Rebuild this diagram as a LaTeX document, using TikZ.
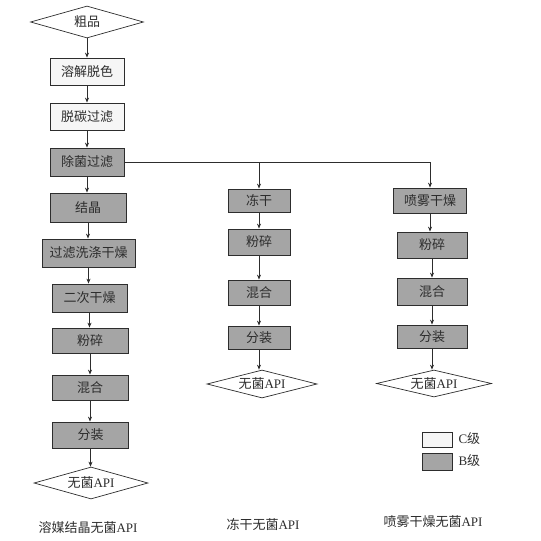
\documentclass[tikz,border=0pt]{standalone}
\usepackage{fontspec}
\setmainfont{Liberation Serif}
\newfontfamily\cjk{Noto Sans CJK SC}
\usetikzlibrary{shapes.geometric,arrows.meta}
\definecolor{bgray}{RGB}{165,165,165}
\definecolor{cgray}{RGB}{246,246,246}
\definecolor{ink}{RGB}{45,45,45}
\begin{document}
\begin{tikzpicture}[x=1pt,y=-1pt,
  every node/.style={text=ink,font=\fontsize{13}{15}\cjk},
  cbox/.style={draw=ink,line width=0.8pt,fill=cgray,minimum width=74pt,minimum height=27pt,inner sep=1pt},
  bbox/.style={draw=ink,line width=0.8pt,fill=bgray,minimum width=74pt,minimum height=27pt,inner sep=1pt},
  dia/.style={draw=ink,line width=0.7pt,fill=white,shape=diamond,aspect=3.4,inner sep=0pt,minimum width=113pt,minimum height=32pt},
  conn/.style={draw=ink,line width=0.8pt,-{Stealth[length=5pt,width=4pt]}},
  plain/.style={draw=ink,line width=0.8pt}]
\useasboundingbox (0,0) rectangle (541,541);
% left column
\node[dia] (L0) at (87,22) {粗品};
\node[cbox] (L1) at (87,71.5) {溶解脱色};
\node[cbox] (L2) at (87,116.5) {脱碳过滤};
\node[bbox,minimum height=28pt] (L3) at (87,162) {除菌过滤};
\node[bbox,minimum width=76pt,minimum height=29pt] (L4) at (88,207.5) {结晶};
\node[bbox,minimum width=93pt,minimum height=28pt] (L5) at (88.5,253) {过滤洗涤干燥};
\node[bbox,minimum width=75pt,minimum height=28pt] (L6) at (89.5,298) {二次干燥};
\node[bbox,minimum width=76pt,minimum height=25pt] (L7) at (90,340.5) {粉碎};
\node[bbox,minimum width=76pt,minimum height=25pt] (L8) at (90,387.5) {混合};
\node[bbox,minimum width=76pt,minimum height=26pt] (L9) at (90.5,435) {分装};
\node[dia,minimum width=114pt] (L10) at (91,483) {无菌\rmfamily API};
\node (Llab) at (88,528) {溶媒结晶无菌\rmfamily API};
% middle column
\node[bbox,minimum width=62pt,minimum height=23pt] (M1) at (259,200.5) {冻干};
\node[bbox,minimum width=62pt,minimum height=26pt] (M2) at (259,242) {粉碎};
\node[bbox,minimum width=62pt,minimum height=25pt] (M3) at (259,292.5) {混合};
\node[bbox,minimum width=62pt,minimum height=23pt] (M4) at (259,337.5) {分装};
\node[dia,minimum width=110pt,minimum height=28pt] (M5) at (262,384) {无菌\rmfamily API};
\node (Mlab) at (263,525) {冻干无菌\rmfamily API};
% right column
\node[bbox,minimum width=73pt,minimum height=25pt] (R1) at (430,200.5) {喷雾干燥};
\node[bbox,minimum width=70pt,minimum height=26pt] (R2) at (432,245) {粉碎};
\node[bbox,minimum width=70pt,minimum height=27pt] (R3) at (432,291.5) {混合};
\node[bbox,minimum width=70pt,minimum height=23pt] (R4) at (432,336.5) {分装};
\node[dia,minimum width=115pt,minimum height=27pt] (R5) at (434,383.5) {无菌\rmfamily API};
\node (Rlab) at (433,522) {喷雾干燥无菌\rmfamily API};
% legend
\node[draw=ink,line width=0.7pt,fill=cgray,minimum width=30pt,minimum height=15pt,inner sep=0pt] (CL) at (437,439.5) {};
\node[anchor=west] (CT) at (455,439) {\rmfamily C\cjk 级};
\node[draw=ink,line width=0.7pt,fill=bgray,minimum width=30pt,minimum height=17pt,inner sep=0pt] (BL) at (437,461.5) {};
\node[anchor=west] (BT) at (455,461) {\rmfamily B\cjk 级};
% connectors left (vertical, at the column axis)
\draw[conn] (L0.south) -- (L0.south |- L1.north);
\draw[conn] (L1.south) -- (L1.south |- L2.north);
\draw[conn] (L2.south) -- (L2.south |- L3.north);
\draw[conn] (L3.south) -- (L3.south |- L4.north);
\draw[conn] (L4.south) -- (L4.south |- L5.north);
\draw[conn] (L5.south) -- (L5.south |- L6.north);
\draw[conn] (L6.south) -- (L6.south |- L7.north);
\draw[conn] (L7.south) -- (L7.south |- L8.north);
\draw[conn] (L8.south) -- (L8.south |- L9.north);
\draw[conn] (L9.south) -- (L9.south |- L10.north);
% branches
\coordinate (J1) at (M1.north |- L3.east);
\draw[plain] (L3.east) -- (J1);
\draw[conn] (L3.east) -| (R1.north);
\draw[conn] (J1) -- (M1.north);
% middle
\draw[conn] (M1.south) -- (M2.north);
\draw[conn] (M2.south) -- (M3.north);
\draw[conn] (M3.south) -- (M4.north);
\draw[conn] (M4.south) -- (M4.south |- M5.north);
% right
\draw[conn] (R1.south) -- (R1.south |- R2.north);
\draw[conn] (R2.south) -- (R2.south |- R3.north);
\draw[conn] (R3.south) -- (R3.south |- R4.north);
\draw[conn] (R4.south) -- (R4.south |- R5.north);
\end{tikzpicture}
\end{document}
